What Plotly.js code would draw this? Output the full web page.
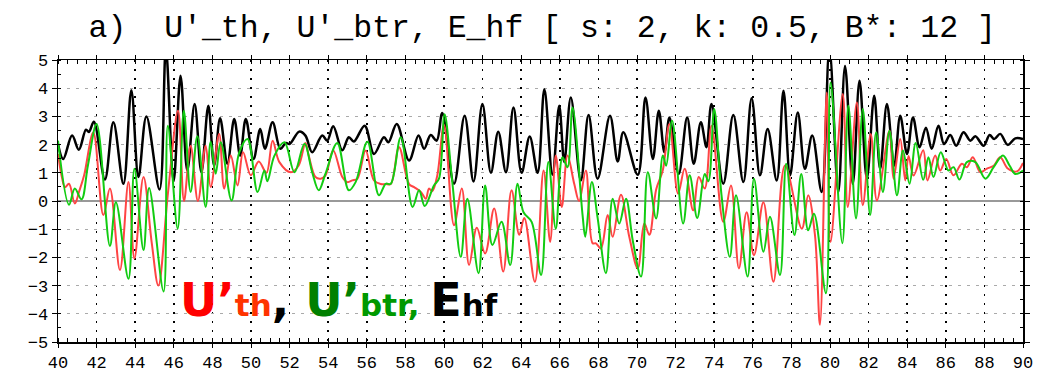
<!DOCTYPE html>
<html>
<head>
<meta charset="utf-8">
<script src="https://cdn.plot.ly/plotly-3.0.1.min.js"></script>
<style>body{margin:0;padding:0;background:#fff;} #chart{width:1057px;height:372px;}</style>
</head>
<body>
<div id="chart"></div>
<script>
// ---- E_hf (black) ----
const blackX = [40.0,40.27,40.73,41.08,41.45,41.6,41.86,42.43,42.87,43.39,43.8,44.17,44.58,45.26,45.59,45.99,46.35,46.7,47.08,47.43,47.79,48.09,48.4,48.78,49.13,49.44,49.73,50.13,50.48,50.72,51.12,51.52,51.81,52.0,52.5,52.82,53.17,53.69,53.95,54.26,54.73,55.07,55.33,55.89,56.37,56.89,57.12,57.55,58.19,58.68,58.97,59.31,59.62,59.91,60.52,61.07,61.53,61.99,62.43,62.81,63.21,63.6,64.02,64.44,64.85,65.2,65.62,65.97,66.23,66.57,67.09,67.49,67.96,68.6,69.0,69.29,70.04,70.44,70.82,71.13,71.42,71.68,72.16,72.6,72.94,73.31,73.6,73.86,74.47,74.99,75.51,75.94,76.37,76.77,77.24,77.59,77.93,78.33,78.7,79.08,79.57,79.97,80.43,80.78,81.18,81.53,81.91,82.29,82.6,82.95,83.33,83.64,83.99,84.3,84.64,84.97,85.27,85.62,85.91,86.23,86.54,86.92,87.27,87.53,87.96,88.27,88.51,88.82,89.21,89.6,90.0];
const blackY = [2.02,1.49,2.32,1.82,2.53,2.45,2.81,0.76,2.79,0.61,3.93,0.85,3.0,0.41,5.4,0.7,4.44,1.08,3.44,1.02,3.38,1.26,2.93,1.32,2.91,1.61,2.91,1.49,2.55,1.85,2.79,1.85,2.06,2.02,2.46,2.32,1.73,2.32,2.14,2.65,1.8,2.26,2.11,2.67,1.67,2.26,2.08,2.73,1.44,2.32,1.85,2.34,2.14,3.12,0.61,3.02,0.69,3.44,1.0,2.46,1.02,3.32,1.0,2.29,1.0,3.96,0.93,3.38,1.38,3.67,0.73,3.05,0.79,3.02,1.4,2.44,0.93,3.67,1.49,3.2,1.73,2.96,0.96,2.96,1.32,2.79,1.91,3.44,0.61,3.05,0.67,3.64,0.91,2.55,0.73,3.91,0.91,3.14,1.14,2.32,0.32,5.4,0.32,4.79,0.61,4.26,0.79,3.73,1.14,3.44,1.26,3.02,1.67,2.96,1.91,2.6,1.85,2.67,2.02,2.34,1.96,2.44,2.14,2.3,1.96,2.34,2.2,2.38,1.99,2.22,2.2];

// ---- U'_th (red) ----
const redX = [40.0,40.2,40.36,40.57,40.87,41.1,41.35,41.83,42.35,42.69,43.21,43.65,43.96,44.43,44.86,45.2,45.7,46.22,46.53,46.87,47.25,47.65,47.91,48.35,48.61,48.95,49.3,49.59,49.99,50.4,50.8,51.12,51.47,52.07,52.47,52.82,52.99,53.34,53.6,53.86,54.26,54.73,54.99,55.25,55.51,55.94,56.37,56.72,56.98,57.24,57.67,58.19,58.45,58.8,59.06,59.22,59.39,59.65,60.0,60.52,60.92,61.3,61.7,62.13,62.6,63.07,63.5,63.9,64.16,64.71,65.16,65.5,65.79,66.1,66.4,66.75,67.0,67.35,67.7,67.87,68.13,68.48,68.74,69.17,69.6,70.04,70.38,70.64,70.99,71.34,71.68,72.13,72.47,72.91,73.2,73.51,73.86,74.47,74.87,75.28,75.68,76.06,76.55,77.07,77.67,78.54,78.87,79.22,79.48,79.83,80.03,80.66,80.92,81.39,81.7,82.11,82.43,83.08,83.29,83.64,83.9,84.07,84.33,84.83,85.05,85.45,85.71,86.02,86.4,86.83,87.09,87.4,87.79,88.13,88.48,88.82,89.21,89.69,90.0];
const redY = [1.67,0.85,0.49,0.61,-0.09,0.35,0.9,2.43,-0.5,0.44,-2.45,0.67,-2.04,0.85,-1.5,-3.0,0.3,3.2,0.0,1.96,0.0,1.96,0.5,2.38,0.44,1.61,0.55,1.73,0.91,1.4,1.0,2.14,1.38,1.02,1.26,2.06,1.61,0.85,0.79,0.91,1.79,0.85,0.67,0.73,0.79,1.79,0.73,0.6,0.6,0.6,1.91,0.6,0.49,0.32,0.08,0.44,0.35,0.9,2.7,-0.86,0.44,-2.27,-0.95,-1.86,-0.27,-2.5,0.38,-1.2,-0.6,-2.86,1.08,-1.45,1.61,-0.21,1.61,0.6,0.0,1.08,-1.5,-1.5,-1.68,-0.5,-1.27,0.22,-1.27,-2.39,-0.8,-1.2,0.4,1.1,2.73,0.26,1.14,-0.33,0.85,0.44,2.67,-0.74,0.55,-2.39,-0.4,-1.92,-0.04,-2.86,1.26,-0.98,0.2,-1.2,-4.39,3.85,-1.45,3.79,-0.21,3.49,-0.15,2.38,0.02,2.49,0.79,2.2,0.73,1.6,0.9,1.8,0.73,1.61,1.08,1.49,0.91,1.32,1.2,1.55,1.02,1.15,1.25,1.55,1.15,1.05,1.35];

// ---- U'_btr (green) ----
const greenX = [40.0,40.57,40.87,41.22,41.55,42.0,42.69,43.0,43.65,43.96,44.43,44.72,45.47,45.69,46.2,46.52,46.87,47.22,47.65,47.91,48.17,48.43,48.99,49.39,49.82,50.34,50.69,50.85,51.21,51.73,52.25,52.77,53.17,53.51,53.86,54.47,55.07,55.42,56.03,56.63,56.98,57.24,57.76,58.37,58.71,59.0,59.48,59.74,60.03,60.43,60.87,61.21,61.79,62.13,62.51,62.98,63.43,63.81,64.12,64.54,65.03,65.41,65.79,66.14,66.4,66.66,67.18,67.32,67.66,67.96,68.39,68.74,69.08,69.43,69.78,70.21,70.56,70.99,71.34,71.51,71.82,72.39,72.73,73.12,73.51,73.7,74.0,74.38,74.81,75.13,75.73,76.06,76.55,76.89,77.41,77.73,78.16,78.51,78.87,79.17,79.79,80.03,80.64,80.95,81.35,81.7,82.08,82.39,82.74,83.08,83.47,83.78,84.12,84.44,84.83,85.1,85.36,85.74,86.14,86.4,86.71,87.09,87.53,88.05,88.48,88.96,89.31,89.6,90.0];
const greenY = [2.14,-0.13,0.44,0.06,1.26,2.73,-1.59,-0.04,-2.76,1.14,-1.74,0.46,-3.21,2.67,-0.98,3.2,0.32,2.3,-0.21,2.1,0.97,2.08,0.02,1.72,2.2,0.32,1.08,0.7,1.6,2.08,1.02,2.03,1.02,0.38,0.97,2.06,0.38,0.67,2.1,0.2,0.61,0.61,2.26,-0.21,0.38,-0.18,0.55,0.79,3.08,0.67,-1.98,0.08,-2.56,0.55,-1.56,-0.74,-2.27,0.61,-0.4,-0.74,-2.62,1.38,-0.98,1.55,1.2,3.32,-0.5,-1.27,0.67,-0.6,-2.56,0.08,-0.8,0.08,-1.4,-2.68,1.02,-0.62,1.61,1.25,2.85,-0.8,0.91,-0.6,0.96,0.7,3.26,0.2,-1.98,0.2,-2.68,0.79,-1.8,-0.56,-2.62,1.32,-1.21,0.96,-1.04,-0.45,-3.27,4.2,-1.5,3.38,-0.62,3.26,-0.5,2.44,0.32,2.49,0.2,1.79,0.61,2.06,0.75,1.55,0.85,1.73,1.08,1.2,0.76,1.38,1.38,0.79,1.2,1.61,1.25,0.96,1.08];

const titleText = "a)\u00a0\u00a0U'_th,\u00a0U'_btr,\u00a0E_hf\u00a0[\u00a0s:\u00a02,\u00a0k:\u00a00.5,\u00a0B*:\u00a012\u00a0]";
const tickFont = {family: "Liberation Mono, monospace", size: 17, color: "#000"};

const traces = [
  {x: blackX, y: blackY, type: "scatter", mode: "lines", line: {color: "#000000", width: 2.5, shape: "spline", smoothing: 1}, hoverinfo: "skip"},
  {x: redX, y: redY, type: "scatter", mode: "lines", line: {color: "#ff4444", width: 2, shape: "spline", smoothing: 1}, hoverinfo: "skip"},
  {x: greenX, y: greenY, type: "scatter", mode: "lines", line: {color: "#11cc11", width: 2, shape: "spline", smoothing: 1}, hoverinfo: "skip"}
];

const layout = {
  width: 1057, height: 372,
  margin: {l: 58, r: 34, t: 60, b: 30},
  paper_bgcolor: "#fff", plot_bgcolor: "#fff",
  showlegend: false,
  title: {text: titleText, x: 0.513, xanchor: "center", y: 0.93, yanchor: "middle",
          font: {family: "Liberation Mono, monospace", size: 31.5, color: "#000"}},
  xaxis: {
    range: [40, 90], tick0: 40, dtick: 2, ticks: "outside", ticklen: 4, tickwidth: 1, tickcolor: "#000",
    showline: true, linecolor: "#000", linewidth: 1.5, mirror: "allticks",
    showgrid: true, gridcolor: "#000", griddash: "2px,7px", gridwidth: 1.5,
    zeroline: false, tickfont: tickFont,
    minor: {dtick: 0.5, ticks: "inside", ticklen: 4, tickcolor: "#000", showgrid: false}
  },
  yaxis: {
    range: [-5, 5], tick0: -5, dtick: 1, ticks: "outside", ticklen: 5, tickcolor: "#000",
    showline: true, linecolor: "#000", linewidth: 1.5, mirror: "allticks",
    showgrid: true, gridcolor: "#aaaaaa", griddash: "3px,6px", gridwidth: 1,
    zeroline: true, zerolinecolor: "#999999", zerolinewidth: 1.5,
    tickfont: tickFont,
    minor: {dtick: 0.5, ticks: "inside", ticklen: 3, tickcolor: "#000", showgrid: false}
  },
  annotations: [{
    xref: "paper", yref: "paper", x: 0.124, y: 0.15, xanchor: "left", yanchor: "middle",
    showarrow: false,
    font: {family: "DejaVu Sans, Verdana, sans-serif", size: 46, color: "#000"},
    text: '<b><span style="color:#ff0000">U\u2019</span><span style="color:#ff3300;font-size:31px">th</span>, ' +
          '<span style="color:#008000">U\u2019</span><span style="color:#009900;font-size:31px">btr, </span>' +
          'E<span style="font-size:31px">hf</span></b>'
  }]
};

Plotly.newPlot("chart", traces, layout, {displayModeBar: false, staticPlot: true});
</script>
</body>
</html>
